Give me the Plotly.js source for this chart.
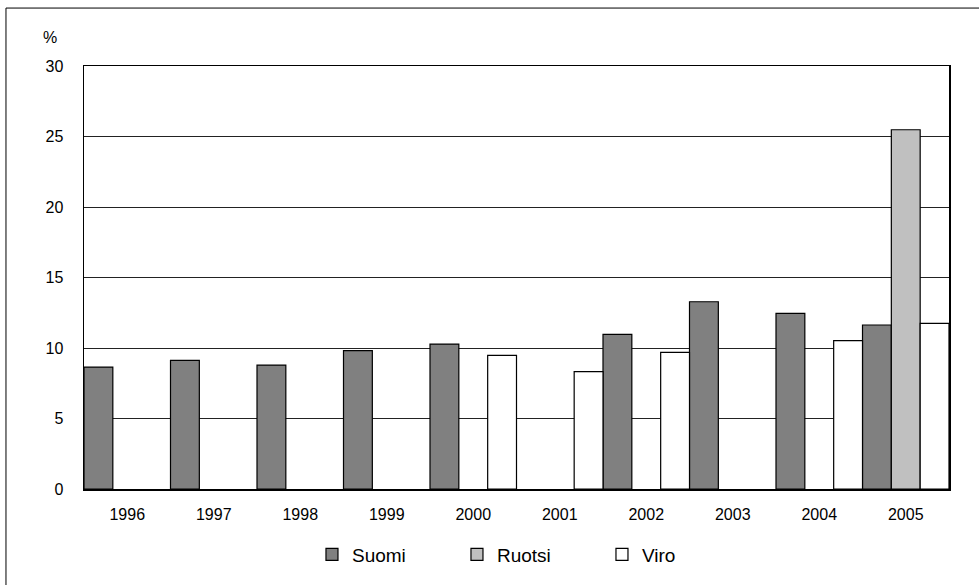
<!DOCTYPE html>
<html>
<head>
<meta charset="utf-8">
<script src="https://cdn.plot.ly/plotly-3.0.1.min.js"></script>
<style>html,body{margin:0;padding:0;background:#fff;}#chart{width:979px;height:585px;}</style>
</head>
<body>
<div id="chart"></div>
<script>
var years = ['1996','1997','1998','1999','2000','2001','2002','2003','2004','2005'];
var suomi = [8.65, 9.12, 8.79, 9.81, 10.28, null, 10.97, 13.28, 12.45, 11.63];
var ruotsi = [null, null, null, null, null, null, null, null, null, 25.48];
var viro = [null, null, null, null, 9.48, 8.32, 9.69, null, 10.52, 11.74];
var yTicks = [0, 5, 10, 15, 20, 25, 30];

function bar(name, y, color) {
  return {type: 'bar', name: name, x: years, y: y,
    marker: {color: color, line: {color: '#000', width: 1.2}},
    hoverinfo: 'x+y+name'};
}
var data = [bar('Suomi', suomi, '#808080'), bar('Ruotsi', ruotsi, '#c0c0c0'), bar('Viro', viro, '#ffffff')];

var layout = {
  width: 979, height: 585,
  margin: {l: 84, r: 30, t: 66, b: 96},
  paper_bgcolor: '#fff', plot_bgcolor: '#fff',
  font: {family: '"Liberation Sans", Arial, sans-serif', color: '#000', size: 16},
  barmode: 'group', bargap: 0, bargroupgap: 0,
  showlegend: true,
  legend: {orientation: 'h', x: 0.515, xanchor: 'center', y: -0.155, yanchor: 'middle',
    font: {size: 19}, entrywidth: 100, itemwidth: 30, traceorder: 'normal'},
  xaxis: {type: 'category', showline: true, linecolor: '#000', linewidth: 1.5, mirror: true,
    ticks: '', tickfont: {size: 16}, ticklabelstandoff: 10, showgrid: false, zeroline: false},
  yaxis: {range: [0, 30], tickvals: yTicks, ticktext: yTicks.map(String), showline: true,
    linecolor: '#000', linewidth: 1.5, mirror: true, ticks: '', tickfont: {size: 16},
    ticklabelstandoff: 16, showgrid: true, gridcolor: '#222', gridwidth: 1, zeroline: false},
  annotations: [{text: '%', xref: 'paper', yref: 'paper', x: -0.039, y: 1.067,
    xanchor: 'center', yanchor: 'middle', showarrow: false, font: {size: 16}}],
  shapes: [{type: 'rect', xref: 'paper', yref: 'paper', x0: -0.0902, x1: 1.2, y0: -0.4, y1: 1.137,
    line: {color: '#000', width: 1}, fillcolor: 'rgba(0,0,0,0)', layer: 'below'}]
};
Plotly.newPlot('chart', data, layout, {displayModeBar: false, staticPlot: true});
</script>
</body>
</html>
